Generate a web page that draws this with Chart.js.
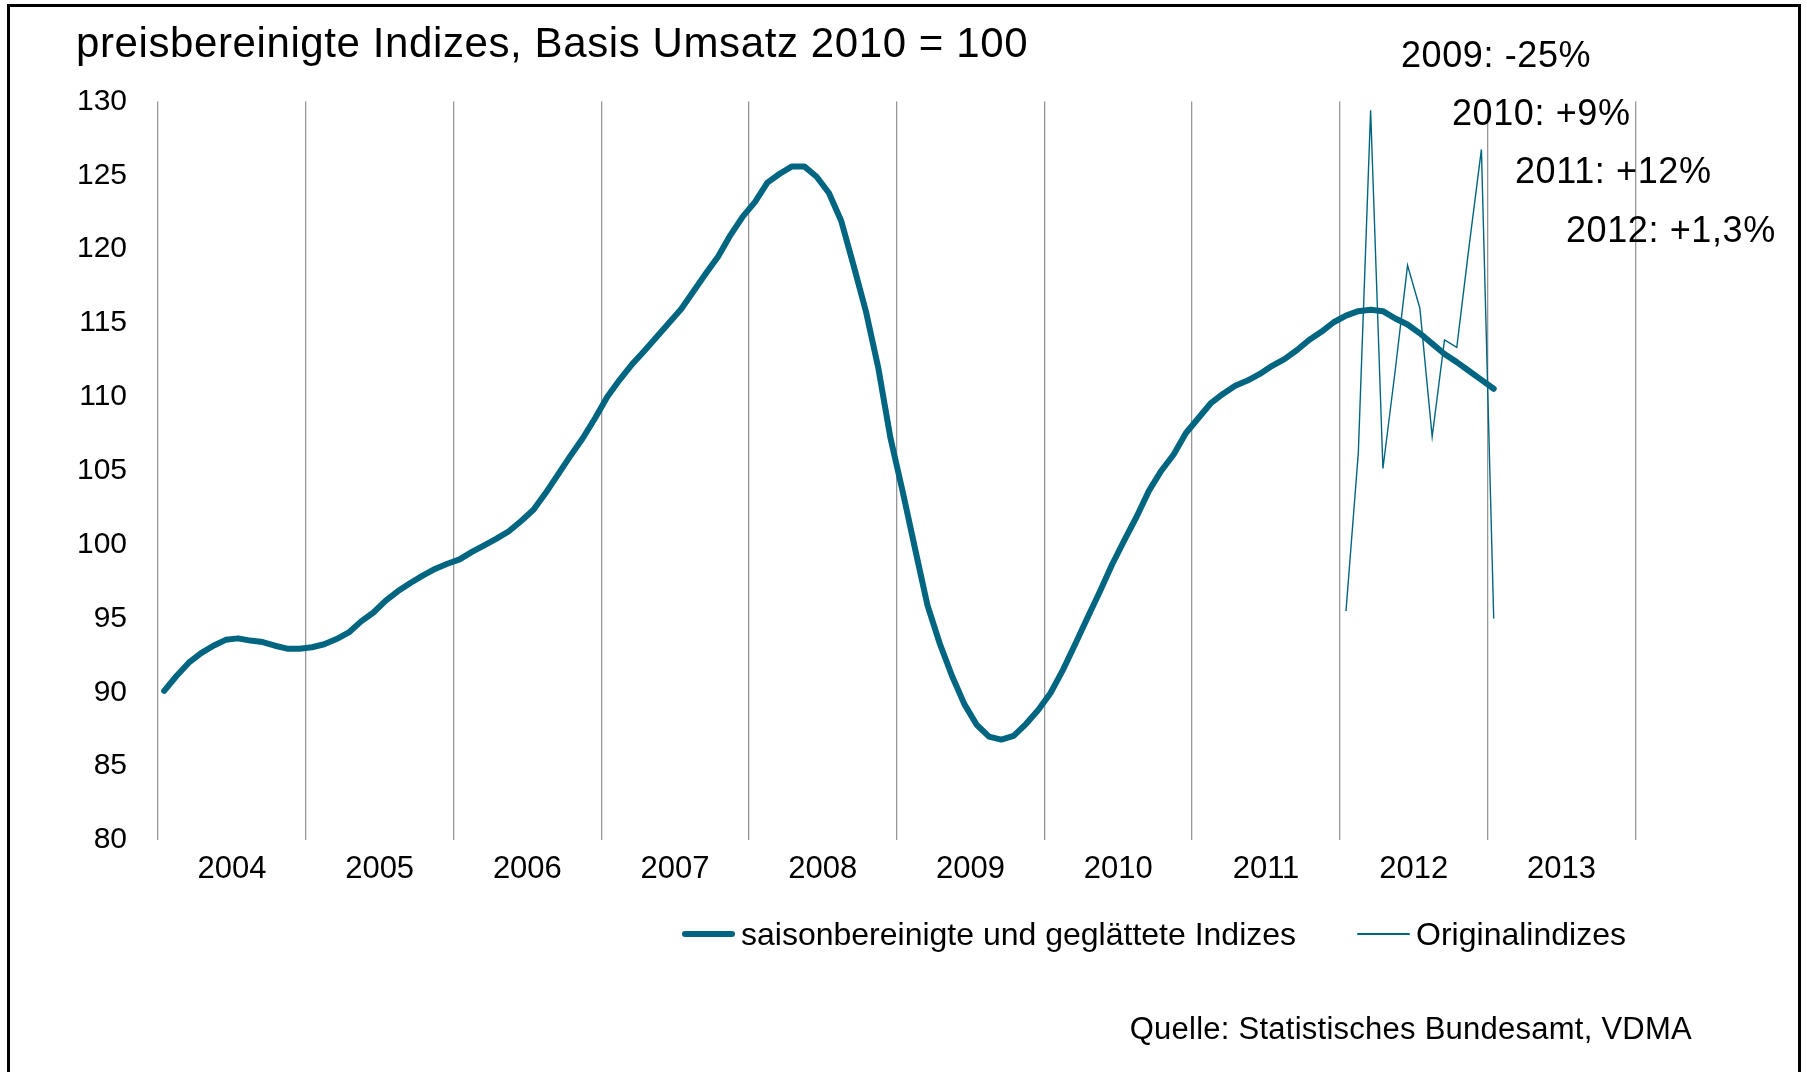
<!DOCTYPE html>
<html lang="de">
<head>
<meta charset="utf-8">
<title>Preisbereinigte Indizes</title>
<script src="https://cdn.jsdelivr.net/npm/chart.js@4.4.0/dist/chart.umd.min.js"></script>
<style>
  html, body { margin:0; padding:0; background:#fff; overflow:hidden; }
  body { width:1807px; height:1072px; position:relative; font-family:"Liberation Sans", Arial, sans-serif; color:#000; }
  #rahmen { position:absolute; left:7px; top:4px; width:1794px; height:1120px; box-sizing:border-box; border:3px solid #000; border-bottom:none; }
  #grafico { position:absolute; left:0; top:0; }
  .txt { position:absolute; white-space:nowrap; line-height:1; }
  #titel { left:76px; top:21.5px; font-size:42px; letter-spacing:0.6px; }
  .anm { font-size:36px; letter-spacing:0.6px; }
  #quelle { right:115px; top:1013px; font-size:31px; letter-spacing:0.25px; }
  #legende { position:absolute; left:682px; top:918px; display:flex; align-items:center; font-size:32px; line-height:1; white-space:nowrap; }
  .leg-item { display:flex; align-items:center; margin-right:61px; }
  .leg-linie { display:inline-block; width:53px; margin-right:6px; border-radius:3px; }
</style>
</head>
<body>
<div id="rahmen"></div>
<canvas id="grafico" width="1807" height="1072"></canvas>
<div class="txt" id="titel">preisbereinigte Indizes, Basis Umsatz 2010 = 100</div>
<div class="txt anm" style="left:1401px; top:37.4px;">2009: -25%</div>
<div class="txt anm" style="left:1452px; top:95.4px;">2010: +9%</div>
<div class="txt anm" style="left:1515px; top:153.4px;">2011: +12%</div>
<div class="txt anm" style="left:1566px; top:212.4px;">2012: +1,3%</div>
<div id="legende"></div>
<div class="txt" id="quelle">Quelle: Statistisches Bundesamt, VDMA</div>

<script>
// Daten (Monatswerte ab Januar 2004)
var jahre = ['2004', '2005', '2006', '2007', '2008', '2009', '2010', '2011', '2012', '2013'];
var yWerte = [80, 85, 90, 95, 100, 105, 110, 115, 120, 125, 130];

var geglaettet = [
    90.1, 91.1, 92.0, 92.65, 93.15, 93.55, 93.65, 93.5, 93.4, 93.15, 92.95, 92.95,
    93.05, 93.25, 93.6, 94.05, 94.8, 95.4, 96.2, 96.85, 97.4, 97.9, 98.35, 98.7,
    99.0, 99.5, 99.95, 100.4, 100.9, 101.6, 102.35, 103.5, 104.75, 106.0, 107.2, 108.55,
    110.0, 111.15, 112.2, 113.1, 114.05, 115.0, 115.95, 117.15, 118.35, 119.5, 120.95, 122.2,
    123.2, 124.5, 125.1, 125.6, 125.6, 124.9, 123.8, 121.9, 118.9, 115.8, 112.0, 107.2,
    103.55, 99.7, 95.9, 93.3, 91.1, 89.2, 87.8, 87.0, 86.8, 87.05, 87.85, 88.8,
    89.95, 91.5, 93.25, 95.05, 96.8, 98.65, 100.3, 101.9, 103.65, 105.0, 106.1, 107.55,
    108.55, 109.55, 110.2, 110.75, 111.1, 111.55, 112.1, 112.55, 113.15, 113.85, 114.4, 115.05,
    115.5, 115.8, 115.9, 115.8, 115.3, 114.9, 114.3, 113.6, 112.9, 112.35, 111.75, 111.15,
    110.55
];

// Originalindizes Jan 2012 - Jan 2013
var original = [95.5, 106.2, 129.4, 105.15, 111.8, 118.9, 116.0, 107.3, 113.85, 113.35, 120.2, 126.75, 95.0];
var originalStart = 96; // Monate seit Jan 2004

var farbe = '#006580';

// Legende als HTML, aus den Datensaetzen erzeugt
var htmlLegende = {
    id: 'htmlLegende',
    afterUpdate: function(chart){
        var box = document.getElementById('legende');
        box.innerHTML = '';
        var items = Chart.defaults.plugins.legend.labels.generateLabels(chart);
        items.forEach(function(item){
            var el = document.createElement('div');
            el.className = 'leg-item';
            var linie = document.createElement('span');
            linie.className = 'leg-linie';
            linie.style.background = item.strokeStyle;
            linie.style.height = item.lineWidth + 'px';
            var text = document.createElement('span');
            text.textContent = item.text;
            el.appendChild(linie);
            el.appendChild(text);
            box.appendChild(el);
        });
    }
};

window.onload = function(){
    Chart.defaults.font.family = '"Liberation Sans", Arial, sans-serif';
    Chart.defaults.color = '#000';

    var contexto = document.getElementById('grafico').getContext('2d');

    var punkteGeglaettet = geglaettet.map(function(v, i){ return {x: i + 0.5, y: v}; });
    var punkteOriginal = original.map(function(v, i){ return {x: originalStart + i + 0.5, y: v}; });

    var grafico = new Chart(contexto, {
        type: 'line',
        data: {
            datasets: [{
                label: 'saisonbereinigte und geglättete Indizes',
                data: punkteGeglaettet,
                borderColor: farbe,
                backgroundColor: farbe,
                borderWidth: 6,
                borderCapStyle: 'round',
                borderJoinStyle: 'round',
                pointRadius: 0,
                tension: 0,
                fill: false
            }, {
                label: 'Originalindizes',
                data: punkteOriginal,
                borderColor: farbe,
                backgroundColor: farbe,
                borderWidth: 1.4,
                pointRadius: 0,
                tension: 0,
                fill: false
            }]
        },
        options: {
            responsive: false,
            animation: false,
            devicePixelRatio: 1,
            layout: { padding: { left: 40, top: 101.4, right: 171.7, bottom: 182 } },
            plugins: {
                legend: { display: false },
                tooltip: { enabled: false }
            },
            scales: {
                x: {
                    type: 'linear',
                    min: 0,
                    max: jahre.length * 12,
                    afterBuildTicks: function(s){
                        s.ticks = jahre.concat(['']).map(function(j, i){ return {value: i * 12}; });
                    },
                    afterFit: function(s){ s.height = 50; },
                    ticks: {
                        callback: function(v){ return jahre[v / 12] || ''; },
                        labelOffset: 73.9,
                        padding: 11.3,
                        autoSkip: false,
                        maxRotation: 0,
                        color: '#000',
                        font: { size: 31 }
                    },
                    grid: { color: '#969696', lineWidth: 1.3, drawTicks: false },
                    border: { display: false }
                },
                y: {
                    min: yWerte[0],
                    max: yWerte[yWerte.length - 1],
                    afterFit: function(s){ s.width = 118; },
                    ticks: {
                        stepSize: yWerte[1] - yWerte[0],
                        padding: 31,
                        color: '#000',
                        font: { size: 30 }
                    },
                    grid: { display: false, drawTicks: false },
                    border: { display: false }
                }
            }
        },
        plugins: [htmlLegende]
    });
};
</script>
</body>
</html>
